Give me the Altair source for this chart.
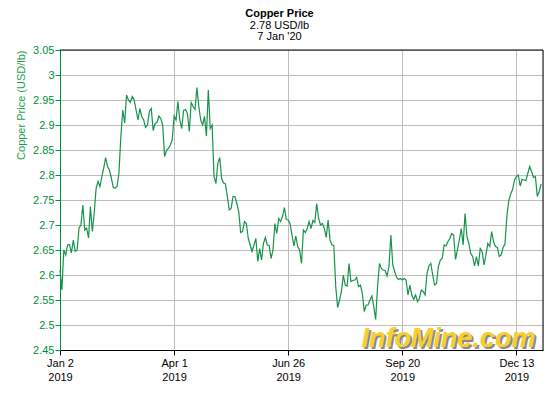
import altair as alt
import pandas as pd

# Daily copper price (USD/lb), trading days from Jan 2 2019 to Jan 7 2020
price = [
    2.61, 2.57, 2.65, 2.64, 2.66, 2.661, 2.644, 2.67, 2.647, 2.65,
    2.694, 2.70, 2.74, 2.69, 2.694, 2.674, 2.737, 2.687, 2.724, 2.774,
    2.787, 2.777, 2.797, 2.814, 2.835, 2.817, 2.81, 2.794, 2.775, 2.774,
    2.777, 2.804, 2.877, 2.93, 2.904, 2.96, 2.95, 2.945, 2.957, 2.95,
    2.93, 2.91, 2.933, 2.917, 2.91, 2.895, 2.90, 2.927, 2.933, 2.889,
    2.903, 2.905, 2.918, 2.913, 2.90, 2.837, 2.849, 2.853, 2.86, 2.87,
    2.918, 2.91, 2.947, 2.91, 2.893, 2.929, 2.931, 2.923, 2.887, 2.945,
    2.937, 2.931, 2.975, 2.937, 2.91, 2.90, 2.917, 2.878, 2.97, 2.893,
    2.90, 2.797, 2.783, 2.823, 2.835, 2.793, 2.784, 2.782, 2.757, 2.73,
    2.733, 2.757, 2.757, 2.743, 2.727, 2.685, 2.687, 2.707, 2.703, 2.673,
    2.66, 2.647, 2.66, 2.673, 2.627, 2.653, 2.63, 2.663, 2.675, 2.66,
    2.659, 2.633, 2.65, 2.703, 2.683, 2.713, 2.707, 2.717, 2.735, 2.711,
    2.71, 2.703, 2.68, 2.658, 2.678, 2.657, 2.65, 2.623, 2.69, 2.685,
    2.693, 2.707, 2.693, 2.709, 2.705, 2.743, 2.713, 2.70, 2.703, 2.693,
    2.675, 2.71, 2.67, 2.66, 2.659, 2.577, 2.535, 2.55, 2.567, 2.60,
    2.58, 2.578, 2.623, 2.587, 2.589, 2.59, 2.595, 2.577, 2.58, 2.563,
    2.527, 2.54, 2.54, 2.55, 2.558, 2.537, 2.511, 2.577, 2.623, 2.613,
    2.61, 2.609, 2.598, 2.617, 2.68, 2.62, 2.607, 2.595, 2.591, 2.593,
    2.59, 2.593, 2.59, 2.56, 2.58, 2.56, 2.551, 2.56, 2.547, 2.553,
    2.57, 2.567, 2.56, 2.603, 2.618, 2.623, 2.60, 2.58, 2.583, 2.617,
    2.63, 2.633, 2.66, 2.658, 2.667, 2.673, 2.683, 2.68, 2.631, 2.65,
    2.67, 2.693, 2.66, 2.723, 2.677, 2.663, 2.643, 2.637, 2.618, 2.637,
    2.618, 2.653, 2.647, 2.62, 2.64, 2.663, 2.657, 2.687, 2.667, 2.657,
    2.655, 2.637, 2.64, 2.655, 2.662, 2.717, 2.749, 2.762, 2.771, 2.79,
    2.797, 2.80, 2.778, 2.791, 2.79, 2.789, 2.803, 2.817, 2.807, 2.795,
    2.797, 2.757, 2.767, 2.782,
]

tick_days = [0, 60, 120, 180, 240]
tick_dates = ["Jan 2", "Apr 1", "Jun 26", "Sep 20", "Dec 13"]
tick_years = ["2019", "2019", "2019", "2019", "2019"]
y_ticks = [2.45, 2.5, 2.55, 2.6, 2.65, 2.7, 2.75, 2.8, 2.85, 2.9, 2.95, 3.0, 3.05]
x_max = 254
y_min, y_max = 2.45, 3.05

df = pd.DataFrame({"day": list(range(len(price))), "price": price})

label_expr = " : ".join(
    f"datum.value == {d} ? ['{m}', '{y}']" for d, m, y in zip(tick_days, tick_dates, tick_years)
) + " : ''"

GREEN = "#008f3c"
TITLE_GREEN = "#22a050"
LINE = "#15934b"
GRID = "#bdbdbd"
FONT = "Liberation Sans"

x_scale = alt.Scale(domain=[0, x_max], nice=False, zero=False)
y_scale = alt.Scale(domain=[y_min, y_max], nice=False, zero=False)

base = alt.Chart(df)

line = base.mark_line(color=LINE, strokeWidth=1.2).encode(
    x=alt.X(
        "day:Q",
        scale=x_scale,
        axis=alt.Axis(
            values=tick_days,
            tickCount=20,
            labelExpr=label_expr,
            title=None,
            grid=True,
            gridColor=GRID,
            domainColor="black",
            tickColor="black",
            tickSize=5,
            labelColor="black",
            labelFont=FONT,
            labelFontSize=11,
            labelLineHeight=14,
            labelPadding=2,
            labelFlush=False,
            labelOverlap=False,
        ),
    ),
    y=alt.Y(
        "price:Q",
        scale=y_scale,
        axis=alt.Axis(
            values=y_ticks,
            tickCount=30,
            labelExpr="format(datum.value, '.3~g')",
            title="Copper Price (USD/lb)",
            titleColor=TITLE_GREEN,
            titleFont=FONT,
            titleFontSize=11,
            titleFontWeight="normal",
            titleAnchor="end",
            titlePadding=6,
            grid=True,
            gridColor=GRID,
            domainColor=GREEN,
            tickColor=GREEN,
            tickSize=5,
            labelColor=GREEN,
            labelFont=FONT,
            labelFontSize=11,
            labelPadding=1,
            labelFlush=False,
            labelOverlap=False,
        ),
    ),
)

wm_df = pd.DataFrame({"day": [250], "price": [2.456], "label": ["InfoMine.com"]})
wm_shadow = alt.Chart(wm_df).mark_text(
    font=FONT, fontSize=27, fontWeight="bold", fontStyle="italic",
    color="#8a8a8a", align="right", baseline="alphabetic", dx=2, dy=2,
).encode(x=alt.X("day:Q", scale=x_scale), y=alt.Y("price:Q", scale=y_scale), text="label:N")
wm = alt.Chart(wm_df).mark_text(
    font=FONT, fontSize=27, fontWeight="bold", fontStyle="italic",
    color="#f9cf2a", align="right", baseline="alphabetic",
).encode(x=alt.X("day:Q", scale=x_scale), y=alt.Y("price:Q", scale=y_scale), text="label:N")

top_rule = alt.Chart(pd.DataFrame({"price": [y_max]})).mark_rule(color="black", strokeWidth=1).encode(
    y=alt.Y("price:Q", scale=y_scale)
)
right_rule = alt.Chart(pd.DataFrame({"day": [x_max]})).mark_rule(color="black", strokeWidth=1).encode(
    x=alt.X("day:Q", scale=x_scale)
)

chart = alt.layer(wm_shadow, wm, line, top_rule, right_rule).properties(
    width=483,
    height=300,
    autosize=alt.AutoSizeParams(type="none"),
    padding={"left": 52, "top": 42, "right": 9, "bottom": 42},
    title=alt.TitleParams(
        text="Copper Price",
        subtitle=["2.78 USD/lb", "7 Jan '20"],
        anchor="middle",
        dx=-22,
        font=FONT,
        fontSize=11,
        fontWeight="bold",
        lineHeight=11,
        color="black",
        subtitleFont=FONT,
        subtitleFontSize=11,
        subtitleColor="black",
        subtitlePadding=1,
        subtitleLineHeight=11.5,
        offset=2,
    ),
).configure_view(stroke=None).configure(background="white")

chart.save("out.html", embed_options={"renderer": "svg", "actions": False})
